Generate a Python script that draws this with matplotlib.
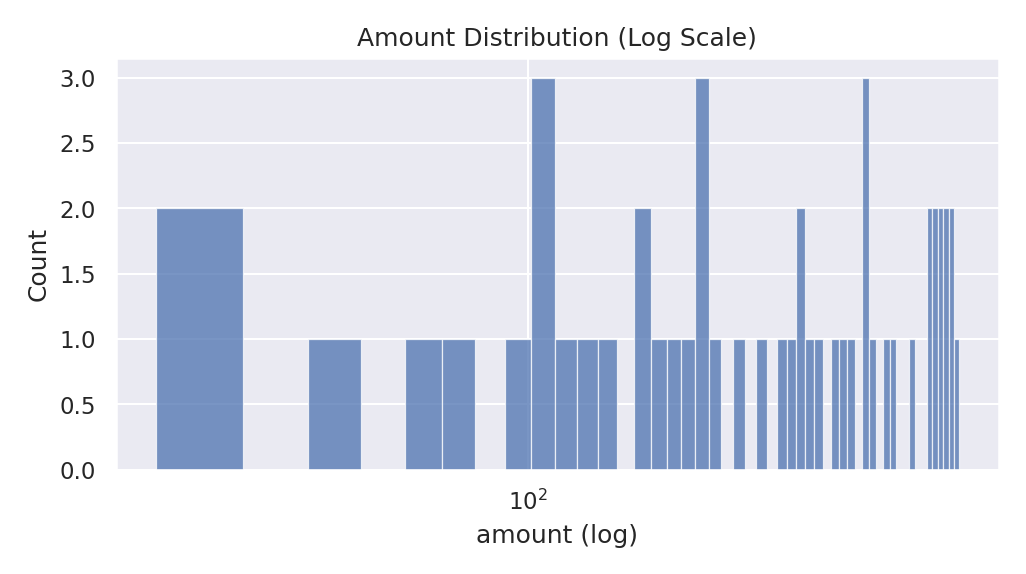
import numpy as np
import matplotlib
matplotlib.use('Agg')
import matplotlib.pyplot as plt
import seaborn as sns

# Equal-width linear bins, shown on a log axis
amount_min = 24.8
amount_max = 501.8
n_bins = 50
counts = [2, 0, 1, 0, 1, 1, 0, 1, 3, 1,
          1, 1, 0, 2, 1, 1, 1, 3, 1, 0,
          1, 0, 1, 0, 1, 1, 2, 1, 1, 0,
          1, 1, 1, 0, 3, 1, 0, 1, 1, 0,
          0, 1, 0, 0, 2, 2, 2, 2, 2, 1]

edges = np.linspace(amount_min, amount_max, n_bins + 1)
centers = (edges[:-1] + edges[1:]) / 2

sns.set_theme(style='darkgrid')
fig, ax = plt.subplots(figsize=(6.84, 3.83), dpi=150)
ax.hist(centers, bins=edges, weights=counts, color='#4c72b0', alpha=0.75,
        edgecolor='white', linewidth=0.6)
ax.set_xscale('log')
ax.set_title('Amount Distribution (Log Scale)')
ax.set_xlabel('amount (log)')
ax.set_ylabel('Count')
fig.tight_layout()
fig.savefig('out.png', dpi=150)
